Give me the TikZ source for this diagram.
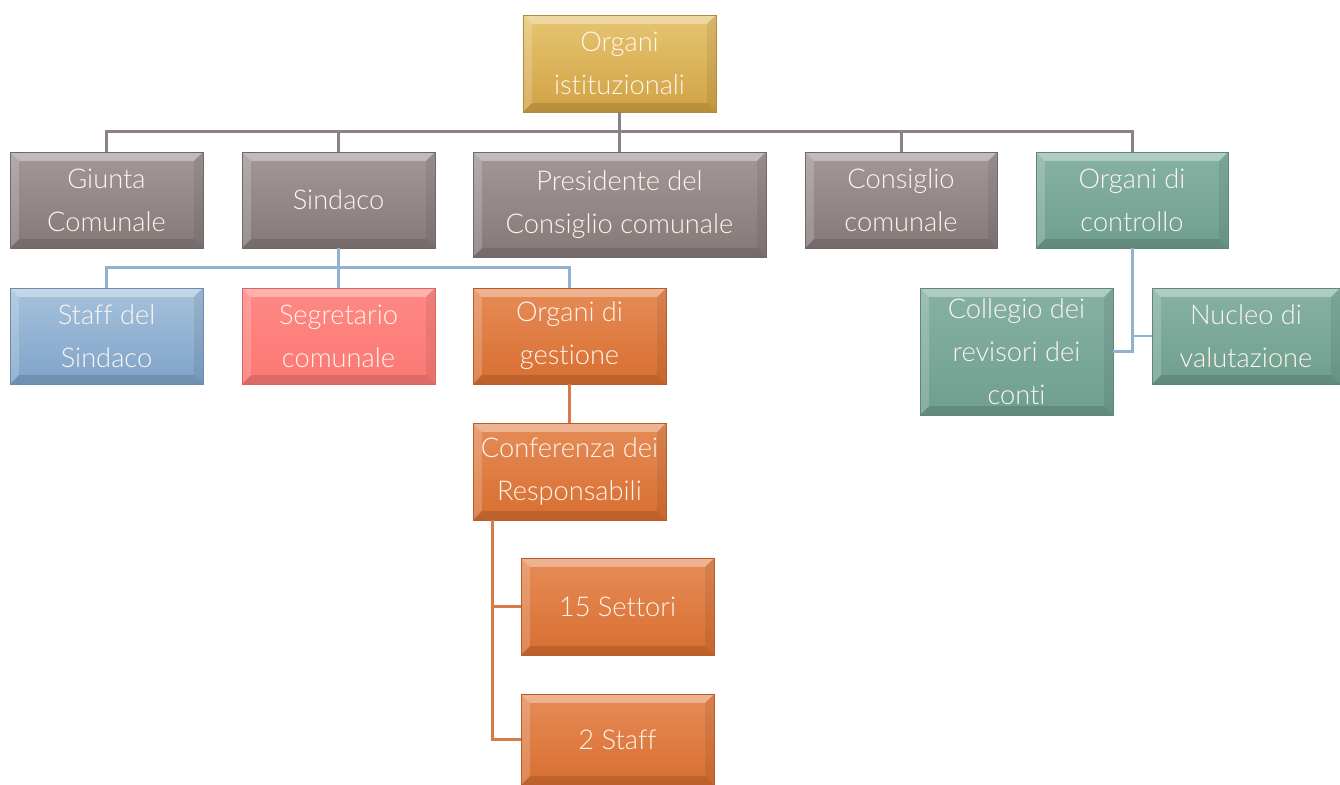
\documentclass[tikz,border=0pt]{standalone}
\usepackage{fontspec}
\setmainfont{Lato}[UprightFont=* Light, Ligatures=NoCommon]
\definecolor{goldtop}{HTML}{E6C572}
\definecolor{goldbot}{HTML}{D1A244}
\definecolor{greytop}{HTML}{A39898}
\definecolor{greybot}{HTML}{857978}
\definecolor{tealtop}{HTML}{86B2A4}
\definecolor{tealbot}{HTML}{6F9E8F}
\definecolor{bluetop}{HTML}{A6C2DC}
\definecolor{bluebot}{HTML}{7EA3C8}
\definecolor{pinktop}{HTML}{FF8985}
\definecolor{pinkbot}{HTML}{FB7874}
\definecolor{orangetop}{HTML}{E68C57}
\definecolor{orangebot}{HTML}{D86E31}
\definecolor{boxtext}{HTML}{FFF6EE}
\definecolor{greyline}{HTML}{8C8282}
\definecolor{blueline}{HTML}{93B2D0}
\definecolor{orangeline}{HTML}{D67A47}
\tikzset{
  bevel/.style={path picture={
    \coordinate (bvnw) at (path picture bounding box.north west);
    \coordinate (bvne) at (path picture bounding box.north east);
    \coordinate (bvsw) at (path picture bounding box.south west);
    \coordinate (bvse) at (path picture bounding box.south east);
    \fill[white, opacity=.35] (bvnw) -- (bvne) -- ([shift={(-5pt,-5pt)}]bvne) -- ([shift={(5pt,-5pt)}]bvnw) -- cycle;
    \fill[white, opacity=.18] (bvnw) -- ([shift={(5pt,-5pt)}]bvnw) -- ([shift={(5pt,5pt)}]bvsw) -- (bvsw) -- cycle;
    \fill[black, opacity=.07] (bvne) -- (bvse) -- ([shift={(-5pt,5pt)}]bvse) -- ([shift={(-5pt,-5pt)}]bvne) -- cycle;
    \fill[black, opacity=.12] (bvsw) -- ([shift={(5pt,5pt)}]bvsw) -- ([shift={(-5pt,5pt)}]bvse) -- (bvse) -- cycle;
  }},
  box/.style={rectangle, inner sep=0pt, align=center, text=boxtext,
    font=\fontsize{15.5}{24.5}\selectfont,
    top color=#1top, bottom color=#1bot, draw=#1bot!85!black, line width=0.4pt, bevel},
  link/.style={draw=#1, line width=1.7pt},
}
\begin{document}
\begin{tikzpicture}[x=0.02cm, y=-0.02cm]
% Picture frame (pixels of the page, y going down)
\useasboundingbox (0,0) rectangle (1340,785);
\def\boxw{3.86cm} % usual box width
\def\boxh{1.92cm} % usual box height

% Top of the chart
\node[box=gold, minimum width=\boxw, minimum height=1.94cm] (istituz) at (619.5,63.5) {Organi\\istituzionali};

% First row
\node[box=grey, minimum width=\boxw, minimum height=\boxh] (giunta) at (106.5,200) {Giunta\\Comunale};
\node[box=grey, minimum width=\boxw, minimum height=\boxh] (sindaco) at (338.5,200) {Sindaco};
\node[box=grey, minimum width=5.86cm, minimum height=2.1cm] (presid) at (619.5,204.5) {Presidente del\\Consiglio comunale};
\node[box=grey, minimum width=3.84cm, minimum height=\boxh] (consiglio) at (901,200) {Consiglio\\comunale};
\node[box=teal, minimum width=3.84cm, minimum height=\boxh] (controllo) at (1132,200) {Organi di\\controllo};

% Second row
\node[box=blue, minimum width=\boxw, minimum height=\boxh] (staffsind) at (106.5,336) {Staff del\\Sindaco};
\node[box=pink, minimum width=\boxw, minimum height=\boxh] (segretario) at (338.5,336) {Segretario\\comunale};
\node[box=orange, minimum width=\boxw, minimum height=\boxh] (gestione) at (569.5,336) {Organi di\\gestione};
\node[box=teal, minimum width=\boxw, minimum height=2.54cm] (collegio) at (1016.5,351.5) {Collegio dei\\revisori dei\\conti};
\node[box=teal, minimum width=3.76cm, minimum height=\boxh] (nucleo) at (1246,336) {Nucleo di\\valutazione};

% Lower rows
\node[box=orange, minimum width=\boxw, minimum height=1.94cm] (conferenza) at (569.5,471.5) {Conferenza dei\\Responsabili};
\node[box=orange, minimum width=\boxw, minimum height=1.94cm] (settori) at (617.5,606.5) {15 Settori};
\node[box=orange, minimum width=\boxw, minimum height=1.82cm] (staffdue) at (617.5,739.5) {2 Staff};

% Connectors from the top box
\draw[link=greyline] (istituz.south) -- ++(0,19) coordinate (bustop);
\draw[link=greyline] (bustop) -| (giunta.north);
\draw[link=greyline] (bustop) -| (sindaco.north);
\draw[link=greyline] (bustop) -- (presid.north);
\draw[link=greyline] (bustop) -| (consiglio.north);
\draw[link=greyline] (bustop) -| (controllo.north);

% Connectors from Sindaco
\draw[link=blueline] (sindaco.south) -- ++(0,19) coordinate (bussind);
\draw[link=blueline] (bussind) -| (staffsind.north);
\draw[link=blueline] (bussind) -- (segretario.north);
\draw[link=blueline] (bussind) -| (gestione.north);

% Connectors on the orange branch
\draw[link=orangeline] (gestione.south) -- (conferenza.north);
\coordinate (confleg) at ([xshift=0.4cm]conferenza.south west);
\draw[link=orangeline] (confleg) |- (settori.west);
\draw[link=orangeline] (confleg) |- (staffdue.west);

% Connectors from Organi di controllo
\draw[link=blueline] (controllo.south) |- (nucleo.west);
\draw[link=blueline] (controllo.south) |- (collegio.east);
\end{tikzpicture}
\end{document}
